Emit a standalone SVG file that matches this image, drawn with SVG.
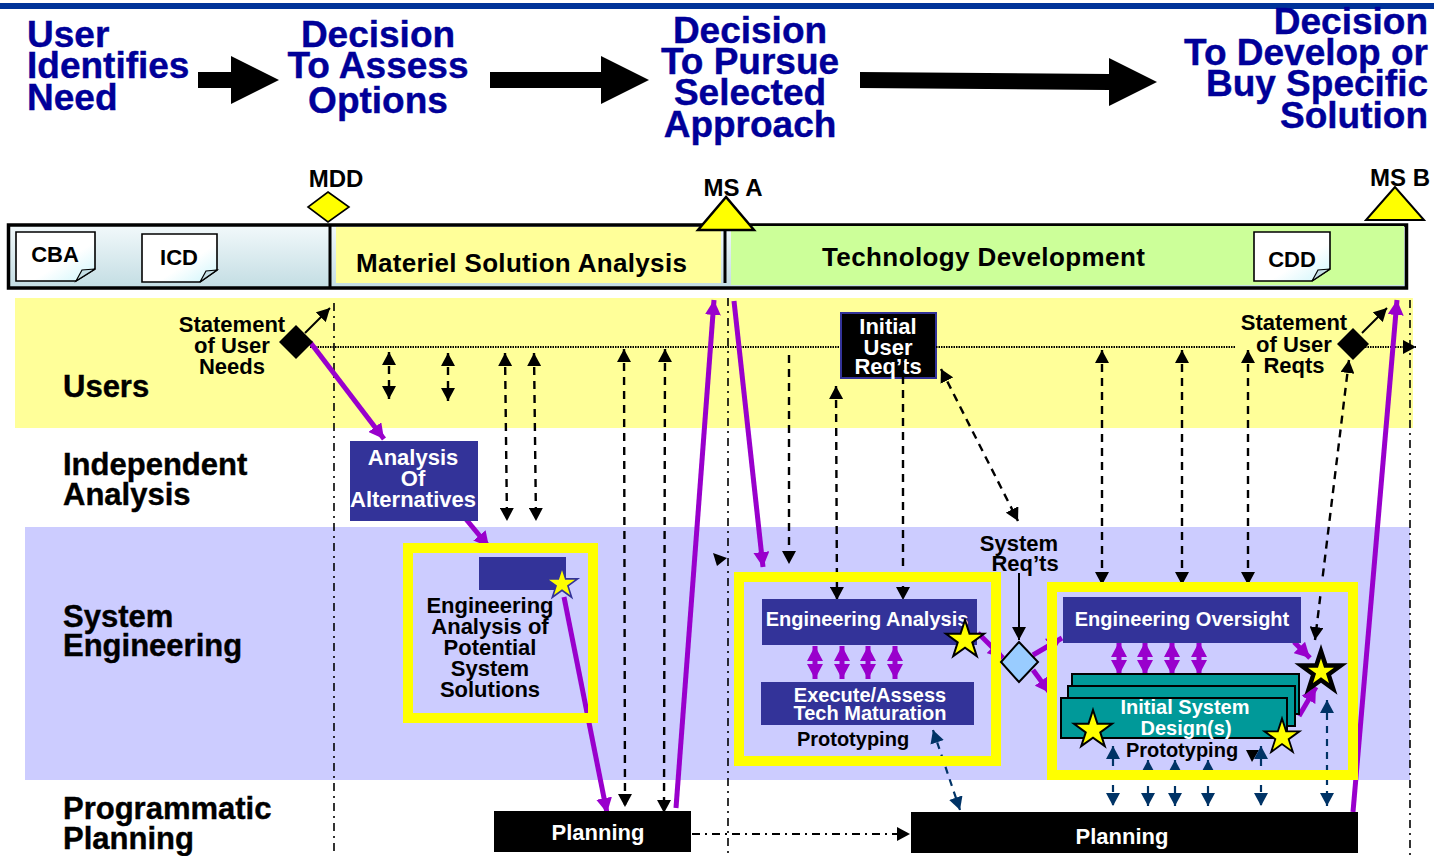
<svg xmlns="http://www.w3.org/2000/svg" width="1434" height="856" viewBox="0 0 1434 856">
<style>
text{font-family:"Liberation Sans",Arial,sans-serif;font-weight:bold;fill:#000;text-anchor:middle}
.title{font-size:37px;fill:#000099;stroke:#000099;stroke-width:.4}
.lane{font-size:31px;text-anchor:start;stroke:#000;stroke-width:.4}
.s22{font-size:22px}
.s24{font-size:24px}
.s20{font-size:20px}
.w{fill:#fff}
.frame{fill:none;stroke:#ffff00;stroke-width:10}
.blue{fill:#333399}
.teal{fill:#009999;stroke:#000;stroke-width:2}
.doc{fill:url(#docfill);stroke:#000;stroke-width:1.6}
.fold{fill:#c5dfe5;stroke:#000;stroke-width:1.2}
.star{fill:#ffff00;stroke:#000;stroke-width:2}
.ms{fill:#ffff00;stroke:#000;stroke-width:2.5}
.dash{stroke:#000;stroke-width:2.4;stroke-dasharray:8 6;fill:none}
.navy{stroke:#003366;stroke-width:2.2;stroke-dasharray:7 6;fill:none}
.purple{stroke:#9900cc;stroke-width:5;fill:none}
.solid{stroke:#000;stroke-width:2;fill:none}
.dotted{stroke:#000;stroke-width:2;stroke-dasharray:1.5 1;fill:none}
.dd{stroke:#000;stroke-width:1.6;stroke-dasharray:8 5 2 5;fill:none}
</style>
<defs>
<linearGradient id="bar" x1="0" y1="0" x2="0" y2="1"><stop offset="0" stop-color="#f2f9fb"/><stop offset="1" stop-color="#c3dde3"/></linearGradient>
<linearGradient id="docfill" x1="0" y1="0" x2="1" y2="1"><stop offset="0" stop-color="#fff"/><stop offset="0.6" stop-color="#fff"/><stop offset="1" stop-color="#ccf5fb"/></linearGradient>
<marker id="ab" markerUnits="userSpaceOnUse" markerWidth="14" markerHeight="14" refX="13" refY="7" orient="auto-start-reverse"><path d="M0,0L13,7L0,14z" fill="#000"/></marker>
<marker id="an" markerUnits="userSpaceOnUse" markerWidth="14" markerHeight="14" refX="13" refY="7" orient="auto-start-reverse"><path d="M0,0L13,7L0,14z" fill="#003366"/></marker>
<marker id="ap" markerUnits="userSpaceOnUse" markerWidth="16" markerHeight="16" refX="15" refY="8" orient="auto-start-reverse"><path d="M0,0L15,8L0,16z" fill="#9900cc"/></marker>
<polygon id="s5" points="0,-20 4.49,-6.18 19.02,-6.18 7.27,2.36 11.76,16.18 0,7.64 -11.76,16.18 -7.27,2.36 -19.02,-6.18 -4.49,-6.18"/>
</defs>
<rect id="topbar" x="0" y="3" width="1434" height="6" fill="#003399"/>
<g id="step-1"><text class="title" style="text-anchor:start" x="27" y="47">User</text><text class="title" style="text-anchor:start" x="27" y="78">Identifies</text><text class="title" style="text-anchor:start" x="27" y="110">Need</text></g>
<g id="step-2"><text class="title" x="378" y="47">Decision</text><text class="title" x="378" y="78">To Assess</text><text class="title" x="378" y="113">Options</text></g>
<g id="step-3"><text class="title" x="750" y="43">Decision</text><text class="title" x="750" y="74">To Pursue</text><text class="title" x="750" y="105">Selected</text><text class="title" x="750" y="137">Approach</text></g>
<g id="step-4"><text class="title" style="text-anchor:end" x="1428" y="34">Decision</text><text class="title" style="text-anchor:end" x="1428" y="65">To Develop or</text><text class="title" style="text-anchor:end" x="1428" y="96">Buy Specific</text><text class="title" style="text-anchor:end" x="1428" y="128">Solution</text></g>
<g id="block-arrows" fill="#000">
<polygon points="198,72 231,72 231,56 279,80 231,104 231,88 198,88"/>
<polygon points="490,72 601,72 601,56 649,80 601,104 601,88 490,88"/>
<polygon points="860,72 1109,74 1109,58 1157,82 1109,106 1109,90 860,88"/>
</g>
<g id="phase-bar">
<rect x="8.5" y="225" width="1398" height="63" fill="url(#bar)" stroke="#000" stroke-width="3.5"/>
<rect x="336" y="227" width="385" height="56" fill="#ffff99"/>
<rect x="731" y="226" width="673" height="59" fill="#ccff99"/>
<path d="M330,225V288" stroke="#000" stroke-width="3"/>
<path d="M725,228V283" stroke="#000" stroke-width="3"/>
<text x="356" y="272" style="text-anchor:start;font-size:26px;letter-spacing:.33px">Materiel Solution Analysis</text>
<text x="822" y="266" style="text-anchor:start;font-size:26px;letter-spacing:.4px">Technology Development</text>
</g>
<g id="doc-cba"><path class="doc" d="M16,232H95V269L76,281H16z"/><path class="fold" d="M76,281L82,270L95,269z"/><text class="s22" x="55" y="262">CBA</text></g>
<g id="doc-icd"><path class="doc" d="M142,234H217V270L200,282H142z"/><path class="fold" d="M200,282L206,271L217,270z"/><text class="s22" x="179" y="265">ICD</text></g>
<g id="doc-cdd"><path class="doc" d="M1254,232H1330V269L1312,281H1254z"/><path class="fold" d="M1312,281L1318,270L1330,269z"/><text class="s22" x="1292" y="267">CDD</text></g>
<g id="ms-mdd"><text class="s24" x="336" y="187">MDD</text><polygon class="ms" style="stroke-width:1.6" points="328,192 349,207 328,222 308,207"/></g>
<g id="ms-a"><text class="s24" x="733" y="196">MS A</text><polygon class="ms" points="726,197 698,230 754,230"/></g>
<g id="ms-b"><text class="s24" x="1400" y="186">MS B</text><polygon class="ms" style="stroke-width:2" points="1395,187 1366,220 1424,220"/></g>
<rect id="band-users" x="15" y="298" width="1398" height="130" fill="#ffff99"/>
<rect id="band-se" x="25" y="527" width="1385" height="253" fill="#ccccff"/>
<g id="lane-users"><text class="lane" x="63" y="397">Users</text></g>
<g id="lane-ia"><text class="lane" x="63" y="475">Independent</text><text class="lane" x="63" y="505">Analysis</text></g>
<g id="lane-se"><text class="lane" x="63" y="627">System</text><text class="lane" x="63" y="656">Engineering</text></g>
<g id="lane-pp"><text class="lane" x="63" y="819">Programmatic</text><text class="lane" x="63" y="849">Planning</text></g>
<g id="initial-user-reqts"><rect x="841" y="313" width="95" height="65" fill="#000" stroke="#333399" stroke-width="2"/><text class="s22 w" x="888" y="334">Initial</text><text class="s22 w" x="888" y="355">User</text><text class="s22 w" x="888" y="374">Req’ts</text></g>
<g id="connectors">
<path class="dd" d="M334,303V856"/>
<path class="dd" d="M728,298V856"/>
<path class="dd" d="M1410,300V856"/>
<path class="dotted" d="M310,347H840"/>
<path class="dotted" d="M936,347H1235"/>
<path class="dotted" d="M1365,347H1416" marker-end="url(#ab)"/>
<path class="solid" d="M305,333L330,308" marker-end="url(#ab)"/>
<path class="solid" d="M1362,333L1387,308" marker-end="url(#ab)"/>
<path class="dash" d="M389,352V399" marker-start="url(#ab)" marker-end="url(#ab)"/>
<path class="dash" d="M448,353V401" marker-start="url(#ab)" marker-end="url(#ab)"/>
<path class="dash" d="M505,353L507,521" marker-start="url(#ab)" marker-end="url(#ab)"/>
<path class="dash" d="M534,353L536,521" marker-start="url(#ab)" marker-end="url(#ab)"/>
<path class="dash" d="M624,349L625,807" marker-start="url(#ab)" marker-end="url(#ab)"/>
<path class="dash" d="M665,349L664,813" marker-start="url(#ab)" marker-end="url(#ab)"/>
<path class="dash" d="M789,355V564" marker-end="url(#ab)"/>
<path class="dash" d="M836,386L837,600" marker-start="url(#ab)" marker-end="url(#ab)"/>
<path class="dash" d="M903,362V600" marker-end="url(#ab)"/>
<path class="dash" d="M941,369L1018,521" marker-start="url(#ab)" marker-end="url(#ab)"/>
<path class="dash" d="M1102,350V585" marker-start="url(#ab)" marker-end="url(#ab)"/>
<path class="dash" d="M1182,350V585" marker-start="url(#ab)" marker-end="url(#ab)"/>
<path class="dash" d="M1248,350V585" marker-start="url(#ab)" marker-end="url(#ab)"/>
<path class="dash" d="M1349,360L1315,640" marker-start="url(#ab)" marker-end="url(#ab)"/>
<path class="solid" d="M1019,573V640" marker-end="url(#ab)"/>
<polygon points="713,553 727,558 717,566" fill="#000"/>
<polygon points="1246,750 1259,750 1252,762" fill="#000"/>
<path class="dd" style="stroke-width:2" d="M692,834H910" marker-end="url(#ab)"/>
<path class="navy" d="M933,730L960,810" marker-start="url(#an)" marker-end="url(#an)"/>
<path class="navy" d="M1113,746V806" marker-start="url(#an)" marker-end="url(#an)"/>
<path class="navy" d="M1148,760V806" marker-start="url(#an)" marker-end="url(#an)"/>
<path class="navy" d="M1175,760V806" marker-start="url(#an)" marker-end="url(#an)"/>
<path class="navy" d="M1208,760V806" marker-start="url(#an)" marker-end="url(#an)"/>
<path class="navy" d="M1261,746V806" marker-start="url(#an)" marker-end="url(#an)"/>
<path class="navy" d="M1327,700V806" marker-start="url(#an)" marker-end="url(#an)"/>
<path class="purple" d="M310,342L384,439" marker-end="url(#ap)"/>
<path class="purple" d="M465,518L489,547" marker-end="url(#ap)"/>
<path class="purple" d="M564,597L607,813" marker-end="url(#ap)"/>
<path class="purple" d="M676,808L714,300" marker-end="url(#ap)"/>
<path class="purple" d="M734,301L763,567" marker-end="url(#ap)"/>
<path class="purple" d="M1353,812L1397,300" marker-end="url(#ap)"/>
<path class="purple" d="M978,633L1003,658" marker-end="url(#ap)"/>
<path class="purple" d="M1033,655L1062,638" marker-end="url(#ap)"/>
<path class="purple" d="M1033,670L1050,693" marker-end="url(#ap)"/>
<path class="purple" d="M1294,642L1310,658" marker-end="url(#ap)"/>
<path class="purple" d="M1299,716L1316,687" marker-end="url(#ap)"/>
<path class="purple" d="M815,646V679" marker-start="url(#ap)" marker-end="url(#ap)"/>
<path class="purple" d="M842,646V679" marker-start="url(#ap)" marker-end="url(#ap)"/>
<path class="purple" d="M868,646V679" marker-start="url(#ap)" marker-end="url(#ap)"/>
<path class="purple" d="M895,646V679" marker-start="url(#ap)" marker-end="url(#ap)"/>
<path class="purple" d="M1119,642V675" marker-start="url(#ap)" marker-end="url(#ap)"/>
<path class="purple" d="M1145,642V675" marker-start="url(#ap)" marker-end="url(#ap)"/>
<path class="purple" d="M1172,642V675" marker-start="url(#ap)" marker-end="url(#ap)"/>
<path class="purple" d="M1199,642V675" marker-start="url(#ap)" marker-end="url(#ap)"/>
</g>
<g id="statement-needs"><polygon points="296,325 313,342 296,359 279,342" fill="#000"/><text class="s22" x="232" y="332">Statement</text><text class="s22" x="232" y="353">of User</text><text class="s22" x="232" y="374">Needs</text></g>
<g id="statement-reqts"><polygon points="1353,328 1369,344 1353,360 1337,344" fill="#000"/><text class="s22" x="1294" y="330">Statement</text><text class="s22" x="1294" y="352">of User</text><text class="s22" x="1294" y="373">Reqts</text></g>
<g id="aoa"><rect class="blue" x="350" y="441" width="128" height="80"/><text class="s22 w" x="413" y="465">Analysis</text><text class="s22 w" x="413" y="486">Of</text><text class="s22 w" x="413" y="507">Alternatives</text></g>
<g id="box-solutions"><rect class="frame" x="408" y="548" width="185" height="170"/><rect class="blue" x="479" y="557" width="87" height="33"/><use href="#s5" transform="translate(562,584) scale(.82)" fill="#ffff00" stroke="#333399" stroke-width="2"/><text class="s22" x="490" y="613">Engineering</text><text class="s22" x="490" y="634">Analysis of</text><text class="s22" x="490" y="655">Potential</text><text class="s22" x="490" y="676">System</text><text class="s22" x="490" y="697">Solutions</text></g>
<g id="box-analysis"><rect class="frame" x="739" y="577" width="257" height="184"/><rect class="blue" x="762" y="599" width="215" height="46"/><text class="s20 w" x="867" y="626">Engineering Analysis</text><rect class="blue" x="761" y="682" width="213" height="43"/><text class="s20 w" x="870" y="702">Execute/Assess</text><text class="s20 w" x="870" y="720">Tech Maturation</text><text class="s20" x="853" y="746">Prototyping</text><use href="#s5" class="star" transform="translate(965,640)"/></g>
<g id="system-reqts"><text class="s22" x="1019" y="551">System</text><text class="s22" x="1025" y="571">Req’ts</text><polygon points="1019,642 1038,662 1019,682 1001,662" fill="#99ccff" stroke="#000" stroke-width="2"/></g>
<g id="box-oversight"><rect class="frame" x="1052" y="587" width="301" height="188"/><rect class="blue" x="1063" y="597" width="238" height="46"/><text class="s20 w" x="1182" y="626">Engineering Oversight</text><rect class="teal" x="1072" y="674" width="227" height="40"/><rect class="teal" x="1068" y="686" width="227" height="40"/><rect class="teal" x="1061" y="698" width="226" height="40"/><text class="s20 w" x="1185" y="714">Initial System</text><text class="s20 w" x="1186" y="735">Design(s)</text><text class="s20" x="1182" y="757">Prototyping</text><use href="#s5" class="star" transform="translate(1093,730)"/><use href="#s5" class="star" transform="translate(1282,737) scale(.92)"/><use href="#s5" transform="translate(1321,672) scale(1.4)" fill="#000"/><use href="#s5" transform="translate(1321,672) scale(.68)" fill="#ffff00"/></g>
<g id="planning-1"><rect x="494" y="811" width="197" height="41" fill="#000"/><text class="s22 w" x="598" y="840">Planning</text></g>
<g id="planning-2"><rect x="911" y="812" width="447" height="41" fill="#000"/><text class="s22 w" x="1122" y="844">Planning</text></g>
</svg>
